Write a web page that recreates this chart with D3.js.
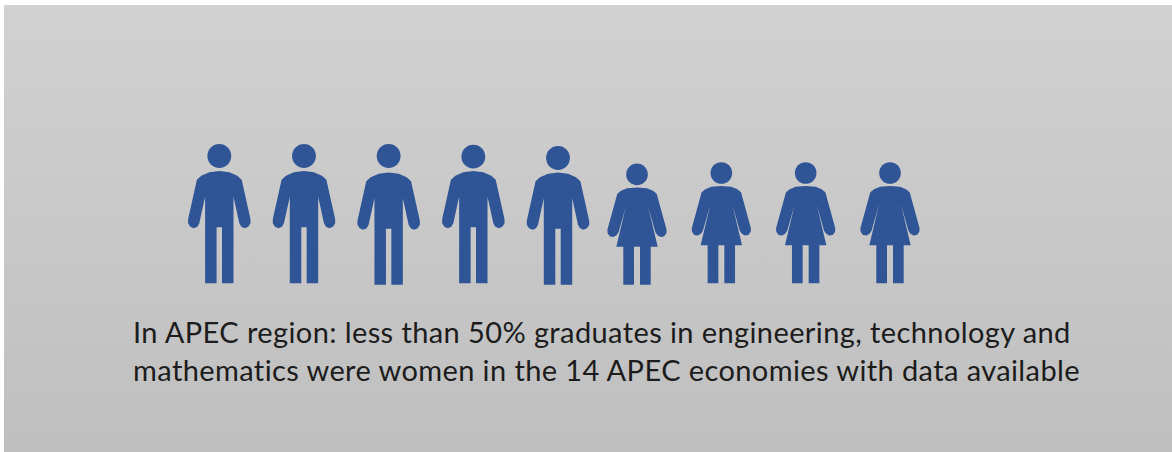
<!DOCTYPE html>
<html>
<head>
<meta charset="utf-8">
<script src="https://cdn.jsdelivr.net/npm/d3@7"></script>
<style>
  html, body { margin: 0; padding: 0; background: #fff; }
  svg { display: block; }
</style>
</head>
<body>
<svg id="chart" width="1172" height="452"></svg>
<script>
// Nine pictogram figures: five men followed by four women.
const menLabels = ["man", "man", "man", "man", "man"];
const womenLabels = ["woman", "woman", "woman", "woman"];
const captionLines = [
  "In APEC region: less than 50% graduates in engineering, technology and",
  "mathematics were women in the 14 APEC economies with data available"
];

const width = 1172, height = 452;
const svg = d3.select("#chart");

// Panel with a soft vertical grey gradient.
const grad = svg.append("defs").append("linearGradient")
  .attr("id", "panelFill").attr("x1", 0).attr("y1", 0).attr("x2", 0).attr("y2", 1);
grad.append("stop").attr("offset", "0%").attr("stop-color", "#d1d1d1");
grad.append("stop").attr("offset", "100%").attr("stop-color", "#bfbfbf");
svg.append("rect").attr("x", 4).attr("y", 5)
  .attr("width", width - 4).attr("height", height - 5)
  .attr("fill", "url(#panelFill)");

// Each group of figures is spaced evenly along its own stretch of the row.
const xMen = d3.scalePoint().domain(d3.range(menLabels.length)).range([219.3, 558]);
const xWomen = d3.scalePoint().domain(d3.range(womenLabels.length)).range([637, 890]);

const ink = "#2f5597";

// Outline of half a figure, mirrored around the centre line; y is measured up from the feet.
function mirrored(half) {
  const left = half.slice().reverse().map(([x, y]) => [-x, y]);
  return half.concat(left);
}
const manHalf = [
  [0, -112.2], [10, -111], [18, -107.5], [22.4, -103.5],
  [31.2, -64], [31.2, -60], [29, -56.5], [25.5, -55], [22, -56.5], [20, -60],
  [14.2, -86.5], [14.2, 0], [2.7, 0], [2.7, -56]
];
const womanHalf = [
  [0, -97.3], [10, -96.5], [16, -94], [19.7, -91],
  [29.6, -55], [29.4, -51.5], [27, -48.3], [23.5, -47.8], [20.5, -49.5], [18.4, -52.5],
  [11, -78.7], [20.7, -38], [13.7, -38], [13.7, 0], [3, 0], [3, -38]
];
const outline = d3.line();

function drawFigure(g, half, headY, headR) {
  g.append("circle").attr("cx", 0).attr("cy", headY).attr("r", headR).attr("fill", ink);
  g.append("path").attr("d", outline(mirrored(half)) + "Z").attr("fill", ink);
}

const menFeet = [283.3, 283.3, 284.7, 283.3, 284.7];
const menHeads = [156, 156, 156, 156.7, 158];
const womenFeet = [284.7, 283.3, 283.3, 283.3];

svg.append("g").selectAll("g").data(menLabels).join("g")
  .attr("transform", (d, i) => `translate(${xMen(i)},${menFeet[i]})`)
  .each(function (d, i) { drawFigure(d3.select(this), manHalf, menHeads[i] - menFeet[i], 11.9); });

svg.append("g").selectAll("g").data(womenLabels).join("g")
  .attr("transform", (d, i) => `translate(${xWomen(i)},${womenFeet[i]})`)
  .each(function () { drawFigure(d3.select(this), womanHalf, -110.3, 10.8); });

// Two-line caption under the row of figures.
svg.append("g").selectAll("text").data(captionLines).join("text")
  .attr("x", 133)
  .attr("y", (d, i) => 342.7 + i * 38)
  .attr("font-family", "Lato, 'Noto Sans', sans-serif")
  .attr("font-size", 29)
  .attr("letter-spacing", 0.4)
  .attr("fill", "#1c1c1c")
  .text(d => d);
</script>
</body>
</html>
